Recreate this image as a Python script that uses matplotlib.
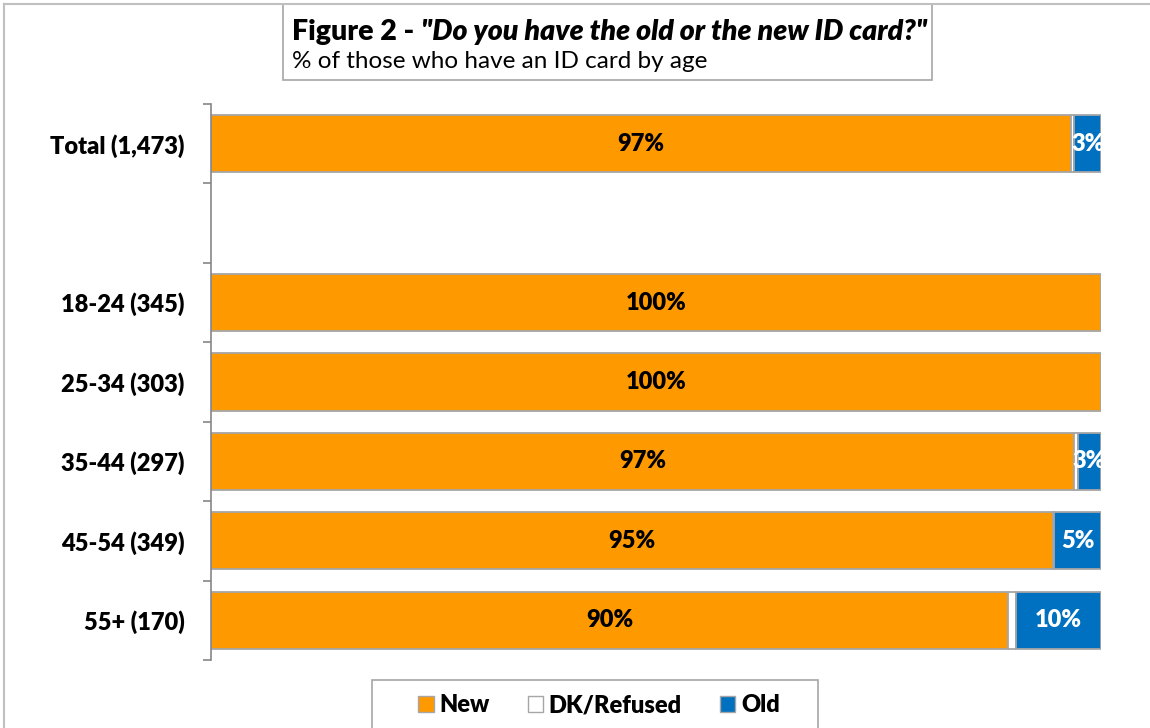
import matplotlib
matplotlib.use("Agg")
import matplotlib.pyplot as plt
from matplotlib.patches import Rectangle, Patch
from matplotlib.lines import Line2D

plt.rcParams['font.family'] = ['Lato', 'DejaVu Sans']

# Survey data: share of ID-card holders by card type
categories = ["Total (1,473)", "", "18-24 (345)", "25-34 (303)",
              "35-44 (297)", "45-54 (349)", "55+ (170)"]
new_card = [96.6, None, 100.0, 100.0, 97.0, 94.6, 89.6]
dk_refused = [0.4, None, 0.0, 0.0, 0.4, 0.1, 0.8]
old_card = [3.0, None, 0.0, 0.0, 2.6, 5.3, 9.6]

series_names = ["New", "DK/Refused", "Old"]
series_colors = ["#FF9900", "#FFFFFF", "#0070C0"]
label_colors = ["black", None, "white"]

BOLD = "heavy"
W, H = 1150, 728
fig = plt.figure(figsize=(W / 100, H / 100), dpi=100)


def px(x0, y0, x1, y1):
    """Pixel box (top-left origin) -> figure fraction [l, b, w, h]."""
    return [x0 / W, 1 - y1 / H, (x1 - x0) / W, (y1 - y0) / H]


ax = fig.add_axes(px(211, 104, 1101, 660))

edge = "#A6A6A6"
for i, cat in enumerate(categories):
    if new_card[i] is None:
        continue
    left = 0.0
    for vals, color, lc in zip((new_card, dk_refused, old_card),
                               series_colors, label_colors):
        v = vals[i]
        if v > 0:
            ax.barh(i, v, left=left, height=0.72, color=color,
                    edgecolor=edge, linewidth=1.3)
            if lc is not None:
                ax.text(left + v / 2, i, f"{round(v):.0f}%", ha="center",
                        va="center", color=lc, fontsize=17,
                        fontweight=BOLD, clip_on=True)
        left += v

ax.set_xlim(0, 100)
ax.set_ylim(len(categories) - 0.5, -0.5)
ax.set_xticks([])
# ticks sit on the category boundaries, labels in the middle of each slot
ax.set_yticks([k - 0.5 for k in range(len(categories) + 1)])
ax.set_yticklabels([])
ax.set_yticks(range(len(categories)), minor=True)
ax.set_yticklabels(categories, minor=True, fontsize=17, fontweight=BOLD)
ax.tick_params(axis="y", which="major", length=6, width=1.2, color="#868686",
               direction="out")
ax.tick_params(axis="y", which="minor", length=0, pad=19)
for s in ("top", "right", "bottom"):
    ax.spines[s].set_visible(False)
ax.spines["left"].set_color("#868686")
ax.spines["left"].set_linewidth(1.2)

# outer chart frame (left and top edges)
fig.add_artist(Line2D([4 / W, 4 / W], [0, 1 - 4 / H], color="#BFBFBF",
                      lw=1.5, transform=fig.transFigure))
fig.add_artist(Line2D([4 / W, 1], [1 - 4 / H, 1 - 4 / H], color="#BFBFBF",
                      lw=1.5, transform=fig.transFigure))

# title box
l, b, w, h = px(283, 4, 932, 80)
fig.add_artist(Rectangle((l, b), w, h, transform=fig.transFigure,
                         facecolor="white", edgecolor="#A6A6A6", lw=1.2))
t1 = fig.text(292 / W, 1 - 40 / H, "Figure 2 - ", fontsize=20.5,
              fontweight=BOLD, ha="left", va="baseline")
fig.canvas.draw()
bb = t1.get_window_extent()
fig.text(bb.x1 / W, 1 - 40 / H, '"Do you have the old or the new ID card?"',
         fontsize=20.5, fontweight=BOLD, style="italic", ha="left",
         va="baseline")
fig.text(292 / W, 1 - 62 / H, "% of those who have an ID card by age",
         fontsize=17.5, ha="left", va="center")

# legend box, running off the bottom edge
l, b, w, h = px(372, 680, 818, 740)
fig.add_artist(Rectangle((l, b), w, h, transform=fig.transFigure,
                         facecolor="white", edgecolor="#A6A6A6", lw=1.2))
handles = [Patch(facecolor=c, edgecolor=edge, lw=1.0) for c in series_colors]
fig.legend(handles, series_names, loc="center", ncol=3, frameon=False,
           bbox_to_anchor=(599 / W, 1 - 705 / H),
           prop={"size": 17, "weight": BOLD}, handlelength=0.65,
           handleheight=0.65, handletextpad=0.25, columnspacing=1.6)

fig.savefig("out.png", dpi=100)
